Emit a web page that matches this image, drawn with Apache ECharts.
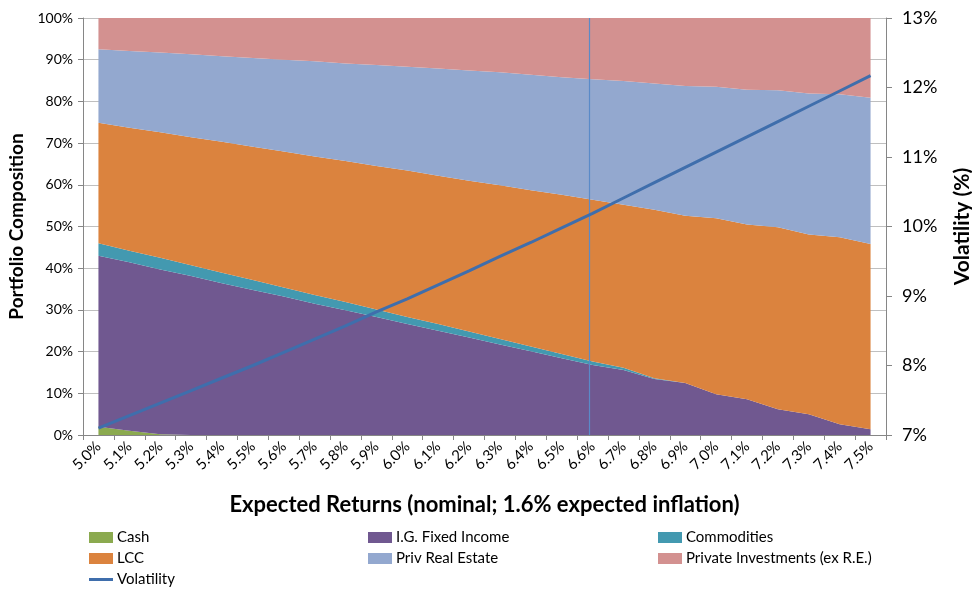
<!DOCTYPE html>
<html>
<head>
<meta charset="utf-8">
<title>Portfolio Composition vs Expected Returns</title>
<script src="https://cdn.jsdelivr.net/npm/echarts@6/dist/echarts.min.js"></script>
<style>
  html, body { margin: 0; padding: 0; background: #ffffff; }
  #chart { width: 972px; height: 589px; }
</style>
</head>
<body>
<div id="chart"></div>
<script>
// Expected nominal returns (category axis)
const returns = ['5.0%','5.1%','5.2%','5.3%','5.4%','5.5%','5.6%','5.7%','5.8%','5.9%',
                 '6.0%','6.1%','6.2%','6.3%','6.4%','6.5%','6.6%','6.7%','6.8%','6.9%',
                 '7.0%','7.1%','7.2%','7.3%','7.4%','7.5%'];

// Allocation weights (% of portfolio) per expected return
const cash = [2.0,1.0,0.2,0,0,0,0,0,0,0,0,0,0,0,0,0,0,0,0,0,0,0,0,0,0,0];
const fixedIncome = [41.0,40.4,39.5,38.1,36.4,34.8,33.2,31.5,29.9,28.3,26.6,25.0,23.4,21.7,20.1,18.4,16.8,15.6,13.4,12.5,9.8,8.6,6.2,5.0,2.6,1.4];
const commodities = [3.0,2.8,2.8,2.6,2.5,2.4,2.2,2.1,2.0,1.8,1.7,1.6,1.4,1.3,1.1,1.0,0.8,0.5,0.2,0,0,0,0,0,0,0];
const lcc = [28.9,29.5,30.1,30.7,31.4,31.9,32.6,33.2,33.8,34.4,35.1,35.6,36.2,36.9,37.5,38.2,38.8,39.1,40.4,40.1,42.2,41.9,43.6,43.1,44.8,44.4];
const privRealEstate = [17.6,18.4,19.1,19.9,20.5,21.3,22.0,22.8,23.4,24.2,24.9,25.7,26.4,27.1,27.7,28.2,28.9,29.7,30.3,31.1,31.5,32.3,32.9,33.8,34.3,35.1];
const privateInvestments = [7.5,7.9,8.3,8.7,9.2,9.6,10.0,10.4,10.9,11.3,11.7,12.1,12.6,13.0,13.6,14.2,14.7,15.1,15.7,16.3,16.5,17.2,17.3,18.1,18.3,19.1];

// Portfolio volatility (%) per expected return
const volatility = [7.10,7.28,7.46,7.64,7.82,8.00,8.19,8.38,8.57,8.77,8.96,9.16,9.36,9.57,9.77,9.98,10.19,10.41,10.63,10.85,11.07,11.29,11.51,11.73,11.95,12.17];

// Selected portfolio's expected return (vertical marker)
const markerReturn = 6.59;

// Axis tick labels
const compTicks = [0,10,20,30,40,50,60,70,80,90,100];
const volTicks = [7,8,9,10,11,12,13];

const FONT = 'Lato, "Liberation Sans", sans-serif';
const AXIS_GREY = '#868686';

const colors = {
  cash: '#8BAA4F',
  fi: '#705890',
  comm: '#4399B0',
  lcc: '#DB833E',
  re: '#93A8CF',
  pi: '#D39190',
  vol: '#3F6EAC',
  marker: '#5A8AC8'
};

function areaSeries(name, data, color) {
  return {
    name: name,
    type: 'line',
    stack: 'mix',
    data: data,
    symbol: 'none',
    lineStyle: { width: 0 },
    areaStyle: { color: color, opacity: 1 },
    itemStyle: { color: color },
    emphasis: { disabled: true },
    z: 2
  };
}

// One legend entry per box so the three columns and three rows line up
const legendText = { fontFamily: FONT, fontSize: 15, color: '#000' };
function legendEntry(name, left, centerY, thin) {
  return {
    orient: 'horizontal',
    left: left,
    top: centerY - 6,
    itemWidth: 24,
    itemHeight: thin ? 3 : 11,
    itemGap: 0,
    padding: 0,
    textStyle: Object.assign({ padding: [0, 0, 0, -1] }, legendText),
    selectedMode: false,
    data: [{ name: name, icon: 'rect' }]
  };
}

const chart = echarts.init(document.getElementById('chart'), null, { renderer: 'canvas' });

chart.setOption({
  animation: false,
  backgroundColor: '#ffffff',
  grid: { left: 83, right: 86, top: 18, bottom: 154, containLabel: false, outerBoundsMode: 'none' },
  legend: [
    legendEntry('Cash', 89, 536),
    legendEntry('LCC', 89, 557),
    legendEntry('Volatility', 89, 578, true),
    legendEntry('I.G. Fixed Income', 368, 536),
    legendEntry('Priv Real Estate', 368, 557),
    legendEntry('Commodities', 658, 536),
    legendEntry('Private Investments (ex R.E.)', 658, 557)
  ],
  xAxis: [
    {
      type: 'category',
      data: returns,
      boundaryGap: true,
      name: 'Expected Returns (nominal; 1.6% expected inflation)',
      nameLocation: 'middle',
      nameGap: 59,
      nameTextStyle: { fontFamily: FONT, fontSize: 22, fontWeight: 'bold', color: '#000' },
      axisLine: { lineStyle: { color: AXIS_GREY, width: 1 } },
      axisTick: { show: true, length: 5, lineStyle: { color: AXIS_GREY } },
      axisLabel: { rotate: 45, interval: 0, margin: 9, fontFamily: FONT, fontSize: 15, color: '#000' },
      splitLine: { show: false }
    },
    {
      type: 'value',
      min: 4.95,
      max: 7.55,
      show: false
    }
  ],
  yAxis: [
    {
      type: 'value',
      min: 0,
      max: 100,
      interval: 10,
      name: 'Portfolio Composition',
      nameLocation: 'middle',
      nameRotate: 90,
      nameGap: 50,
      nameTextStyle: { fontFamily: FONT, fontSize: 19, fontWeight: 'bold', color: '#000' },
      axisLine: { show: true, lineStyle: { color: AXIS_GREY, width: 1 } },
      axisTick: { show: true, length: 5, lineStyle: { color: AXIS_GREY } },
      axisLabel: {
        margin: 10, fontFamily: FONT, fontSize: 14, color: '#000',
        formatter: v => compTicks.includes(v) ? v + '%' : ''
      },
      splitLine: { show: true, lineStyle: { color: '#BFBFBF', width: 1 } }
    },
    {
      type: 'value',
      min: 7,
      max: 13,
      interval: 1,
      position: 'right',
      name: 'Volatility (%)',
      nameLocation: 'middle',
      nameRotate: 90,
      nameGap: 66,
      nameTextStyle: { fontFamily: FONT, fontSize: 21, fontWeight: 'bold', color: '#000' },
      axisLine: { show: true, lineStyle: { color: AXIS_GREY, width: 1 } },
      axisTick: { show: true, inside: false, length: 6, lineStyle: { color: AXIS_GREY } },
      axisLabel: {
        margin: 16, fontFamily: FONT, fontSize: 18, color: '#000',
        formatter: v => volTicks.includes(v) ? v + '%' : ''
      },
      splitLine: { show: false }
    }
  ],
  series: [
    areaSeries('Cash', cash, colors.cash),
    areaSeries('I.G. Fixed Income', fixedIncome, colors.fi),
    areaSeries('Commodities', commodities, colors.comm),
    areaSeries('LCC', lcc, colors.lcc),
    areaSeries('Priv Real Estate', privRealEstate, colors.re),
    areaSeries('Private Investments (ex R.E.)', privateInvestments, colors.pi),
    {
      name: 'Selected',
      type: 'line',
      xAxisIndex: 1,
      yAxisIndex: 0,
      data: [[markerReturn, 0], [markerReturn, 100]],
      symbol: 'none',
      lineStyle: { color: colors.marker, width: 1.2 },
      emphasis: { disabled: true },
      z: 4
    },
    {
      name: 'Volatility',
      type: 'line',
      yAxisIndex: 1,
      data: volatility,
      symbol: 'none',
      lineStyle: { color: colors.vol, width: 3 },
      itemStyle: { color: colors.vol },
      emphasis: { disabled: true },
      z: 5
    }
  ]
});
</script>
</body>
</html>
